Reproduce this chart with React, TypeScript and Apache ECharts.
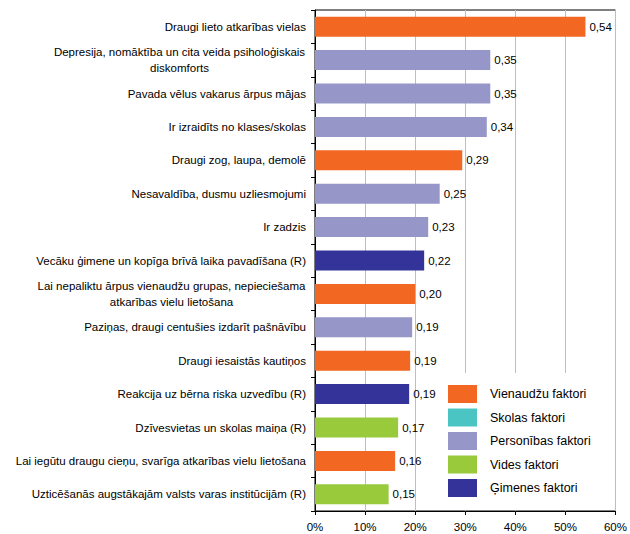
import React, { useEffect, useRef } from "react";
import * as echarts from "echarts";

const categories = [
  "Draugi lieto atkarības vielas",
  "Depresija, nomāktība un cita veida psiholoģiskais\ndiskomforts",
  "Pavada vēlus vakarus ārpus mājas",
  "Ir izraidīts no klases/skolas",
  "Draugi zog, laupa, demolē",
  "Nesavaldība, dusmu uzliesmojumi",
  "Ir zadzis",
  "Vecāku ģimene un kopīga brīvā laika pavadīšana (R)",
  "Lai nepaliktu ārpus vienaudžu grupas, nepieciešama\natkarības vielu lietošana",
  "Paziņas, draugi centušies izdarīt pašnāvību",
  "Draugi iesaistās kautiņos",
  "Reakcija uz bērna riska uzvedību (R)",
  "Dzīvesvietas un skolas maiņa (R)",
  "Lai iegūtu draugu cieņu, svarīga atkarības vielu lietošana",
  "Uzticēšanās augstākajām valsts varas institūcijām (R)",
];

const values = [0.54, 0.35, 0.35, 0.343, 0.294, 0.249, 0.226, 0.218, 0.2, 0.194, 0.19, 0.188, 0.166, 0.16, 0.147];

// index into groupNames for each category
const groupOf = [0, 2, 2, 2, 0, 2, 2, 4, 0, 2, 0, 4, 3, 0, 3];

const groupNames = ["Vienaudžu faktori", "Skolas faktori", "Personības faktori", "Vides faktori", "Ģimenes faktori"];
const groupColors = ["#F26722", "#4BC4C4", "#9696C8", "#99CA3C", "#333399"];

const xTicks = [0, 0.1, 0.2, 0.3, 0.4, 0.5, 0.6];

const FONT = "'Liberation Sans', Arial, sans-serif";

export default function App() {
  const ref = useRef<HTMLDivElement>(null);
  useEffect(() => {
    if (!ref.current) return;
    const chart = echarts.init(ref.current, undefined, { renderer: "svg" });

    const canvas = document.createElement("canvas");
    const ctx = canvas.getContext("2d")!;
    ctx.font = "11.5px " + FONT;
    const widthOf = (s: string) => Math.ceil(ctx.measureText(s).width) + 1;

    const rich: Record<string, any> = {};
    const catFormatter = (val: string) => {
      if (val.indexOf("\n") < 0) return val;
      const lines = val.split("\n");
      const w = Math.max(...lines.map(widthOf));
      const key = "c" + w;
      rich[key] = { width: w, align: "center", fontSize: 11.5, fontFamily: FONT, color: "#000", lineHeight: 16 };
      return lines.map((l) => `{${key}|${l}}`).join("\n");
    };
    const formatted = categories.map(catFormatter);

    const series = groupNames.map((name, g) => ({
      name,
      type: "bar",
      stack: "all",
      barWidth: 20,
      itemStyle: { color: groupColors[g] },
      label: {
        show: true,
        position: "right",
        distance: 4,
        color: "#000",
        fontSize: 11.5,
        fontFamily: FONT,
        formatter: (p: any) => (p.value == null ? "" : Number(p.value).toFixed(2).replace(".", ",")),
      },
      data: values.map((v, i) => (groupOf[i] === g ? v : null)),
    }));

    chart.setOption({
      animation: false,
      backgroundColor: "#fff",
      textStyle: { fontFamily: FONT },
      grid: {
        left: 315,
        right: 12,
        top: 10,
        bottom: 23,
        containLabel: false,
        show: true,
        borderColor: "#000",
        borderWidth: 1,
      },
      legend: {
        orient: "vertical",
        left: 443,
        top: 373,
        padding: [12, 10, 13, 5],
        backgroundColor: "#fff",
        itemWidth: 29,
        itemHeight: 18,
        itemGap: 5.5,
        icon: "rect",
        textStyle: { fontSize: 12.5, fontFamily: FONT, color: "#000", padding: [0, 0, 0, 8] },
        data: groupNames,
      },
      xAxis: {
        type: "value",
        min: xTicks[0],
        max: xTicks[xTicks.length - 1],
        interval: 0.1,
        axisLine: { show: true, lineStyle: { color: "#000" } },
        axisTick: { show: true, length: 4, lineStyle: { color: "#000" } },
        axisLabel: {
          margin: 10,
          fontSize: 11.5,
          fontFamily: FONT,
          color: "#000",
          formatter: (v: number) => Math.round(v * 100) + "%",
        },
        splitLine: { show: true, lineStyle: { color: "#BEBEBE", width: 1 } },
      },
      yAxis: {
        type: "category",
        inverse: true,
        data: categories,
        axisLine: { show: true, lineStyle: { color: "#000" } },
        axisTick: { show: true, length: 4, lineStyle: { color: "#000" } },
        axisLabel: {
          margin: 9,
          fontSize: 11.5,
          fontFamily: FONT,
          color: "#000",
          lineHeight: 16,
          interval: 0,
          formatter: (val: string) => formatted[categories.indexOf(val)],
          rich,
        },
        splitLine: { show: false },
      },
      series,
    });
    return () => chart.dispose();
  }, []);
  return (
    <div
      ref={ref}
      style={{ position: "fixed", left: 0, top: 0, width: 630, height: 534, background: "#fff" }}
    />
  );
}
